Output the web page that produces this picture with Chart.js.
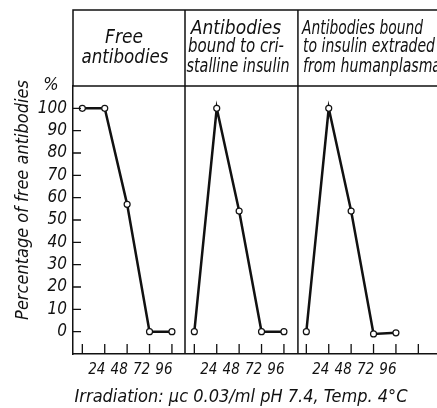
<!DOCTYPE html>
<html>
<head>
<meta charset="utf-8">
<script src="https://cdn.jsdelivr.net/npm/chart.js@4.4.1/dist/chart.umd.min.js"></script>
<style>
  body { margin: 0; background: #fff; }
  #wrap { width: 437px; height: 408px; }
</style>
</head>
<body>
<div id="wrap"><canvas id="irrChart"></canvas></div>
<script>
// hours of irradiation, same for every panel
var hours = [0, 24, 48, 72, 96];
var hourLabels = [24, 48, 72, 96];
// % free antibodies
var freeAb = [100, 100, 57, 0, 0];
var crystInsulin = [0, 100, 54, 0, 0];
var plasmaInsulin = [0, 100, 54, -1, -0.5];
var yTicks = [0, 10, 20, 30, 40, 50, 60, 70, 80, 90, 100];
var panelSpan = 120;   // hours per panel on the shared x axis
var dividers = [110, 231];

var INK = '#111';
var TXT = "'DejaVu Sans Condensed', 'Liberation Sans Narrow', 'DejaVu Sans', sans-serif";

function panelData(vals, p) {
    var pts = [];
    for (var i = 0; i < hours.length; i++) {
        pts.push({ x: hours[i] + p * panelSpan, y: vals[i] });
    }
    return pts;
}

function lineSet(vals, p) {
    return {
        data: panelData(vals, p),
        borderColor: INK,
        borderWidth: 2.5,
        pointRadius: 3,
        pointBackgroundColor: '#fff',
        pointBorderColor: INK,
        pointBorderWidth: 1.2,
        tension: 0
    };
}

function txt(ctx, s, x, y, maxW, size, align) {
    ctx.font = 'italic ' + size + 'px ' + TXT;
    ctx.textAlign = align || 'center';
    ctx.textBaseline = 'middle';
    if (maxW) ctx.fillText(s, x, y, maxW);
    else ctx.fillText(s, x, y);
}

var framePlugin = {
    id: 'frame',
    afterDraw: function (chart) {
        var ctx = chart.ctx, a = chart.chartArea;
        var xs = chart.scales.x, ys = chart.scales.y;
        var top = 10, right = chart.width;
        ctx.save();
        ctx.strokeStyle = INK;
        ctx.lineWidth = 1.5;
        ctx.beginPath();
        ctx.moveTo(a.left, a.top); ctx.lineTo(a.left, top); ctx.lineTo(right, top);
        ctx.moveTo(a.left, a.top); ctx.lineTo(right, a.top);
        ctx.moveTo(a.right, a.bottom); ctx.lineTo(right, a.bottom);
        dividers.forEach(function (v) {
            var px = xs.getPixelForValue(v);
            ctx.moveTo(px, top); ctx.lineTo(px, a.bottom);
        });
        ctx.stroke();

        // inward tick marks
        ctx.lineWidth = 1.3;
        ctx.beginPath();
        yTicks.forEach(function (v) {
            var py = ys.getPixelForValue(v);
            ctx.moveTo(a.left, py); ctx.lineTo(a.left + 8, py);
        });
        xs.ticks.forEach(function (t) {
            var px = xs.getPixelForValue(t.value);
            ctx.moveTo(px, a.bottom); ctx.lineTo(px, a.bottom - 10);
        });
        ctx.stroke();

        ctx.fillStyle = INK;
        // panel headers
        txt(ctx, 'Free', 124, 38, 38, 19);
        txt(ctx, 'antibodies', 125, 58, 87, 19);
        txt(ctx, 'Antibodies', 236, 29, 93, 19);
        txt(ctx, 'bound to cri-', 236, 47, 96, 19);
        txt(ctx, 'stalline insulin', 238, 67, 103, 19);
        txt(ctx, 'Antibodies bound', 302, 29, 121, 19, 'left');
        txt(ctx, 'to insulin extraded', 303, 47, 132, 19, 'left');
        txt(ctx, 'from humanplasma', 303, 67, 138, 19, 'left');

        txt(ctx, '%', 51, 85, null, 18);
        txt(ctx, 'Irradiation: \u03bcc 0.03/ml pH 7.4, Temp. 4\u00b0C', 241, 397, 348, 18);

        ctx.save();
        ctx.translate(23, 200);
        ctx.rotate(-Math.PI / 2);
        txt(ctx, 'Percentage of free antibodies', 0, 0, 240, 18);
        ctx.restore();
        ctx.restore();
    }
};

new Chart(document.getElementById('irrChart'), {
    type: 'line',
    data: {
        datasets: [lineSet(freeAb, 0), lineSet(crystInsulin, 1), lineSet(plasmaInsulin, 2)]
    },
    options: {
        responsive: true,
        maintainAspectRatio: false,
        animation: false,
        layout: { autoPadding: false, padding: { top: 86, left: 0, right: 0, bottom: 0 } },
        plugins: { legend: { display: false }, tooltip: { enabled: false } },
        scales: {
            x: {
                type: 'linear',
                min: -10,
                max: 380,
                afterBuildTicks: function (s) {
                    var t = [];
                    for (var v = 0; v <= 3 * panelSpan; v += 24) t.push({ value: v });
                    s.ticks = t;
                },
                afterFit: function (s) {
                    s.height = 54;
                    s.paddingLeft = 0;
                    s.paddingRight = 0;
                },
                grid: { display: false, drawTicks: false },
                border: { display: true, color: INK, width: 1.5 },
                ticks: {
                    color: INK,
                    padding: 7,
                    labelOffset: -8,
                    maxRotation: 0,
                    autoSkip: false,
                    font: { family: "'Liberation Sans Narrow', 'DejaVu Sans Condensed', sans-serif", size: 15, style: 'italic' },
                    callback: function (v) {
                        var r = v % panelSpan;
                        return hourLabels.indexOf(r) >= 0 ? String(r) : '';
                    }
                }
            },
            y: {
                min: -10,
                max: 110,
                afterBuildTicks: function (s) {
                    s.ticks = yTicks.map(function (v) { return { value: v }; });
                },
                afterFit: function (s) { s.width = 73; },
                grid: { display: false, drawTicks: false },
                border: { display: true, color: INK, width: 1.5 },
                ticks: {
                    color: INK,
                    padding: 6,
                    autoSkip: false,
                    font: { family: TXT, size: 17, style: 'italic' }
                }
            }
        }
    },
    plugins: [framePlugin]
});
</script>
</body>
</html>
